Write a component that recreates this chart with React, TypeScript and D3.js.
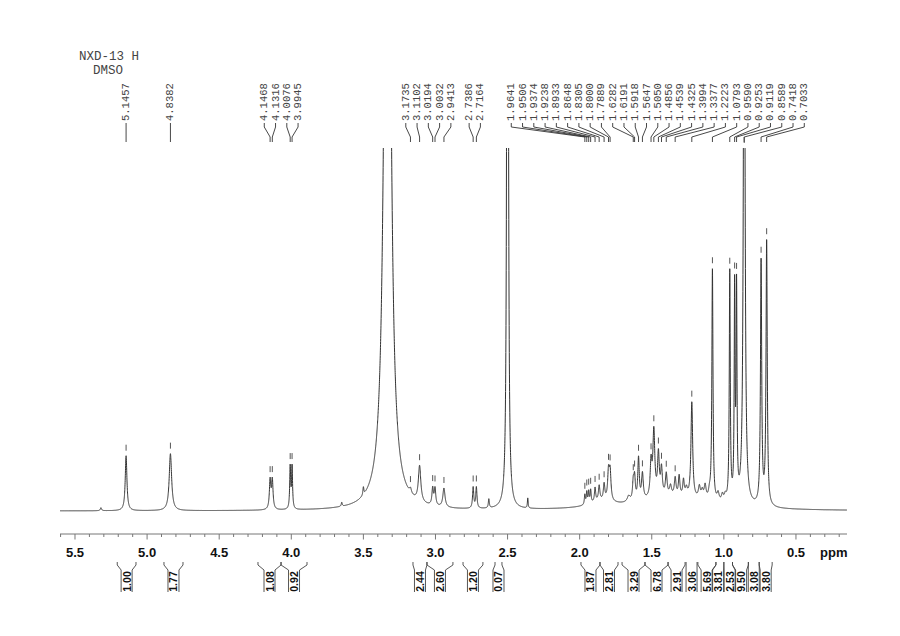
import React, { useMemo } from "react";
import * as d3 from "d3";

// ---------- data ----------
const titleLines = ["NXD-13 H", "DMSO"];

const peakLabels = [
  "5.1457", "4.8382", "4.1468", "4.1316", "4.0076", "3.9945",
  "3.1735", "3.1102", "3.0194", "3.0032", "2.9413", "2.7386", "2.7164",
  "1.9641", "1.9506", "1.9374", "1.9238", "1.8933", "1.8648", "1.8305",
  "1.8000", "1.7889", "1.6282", "1.6191", "1.5918", "1.5647", "1.5050",
  "1.4856", "1.4539", "1.4325", "1.3994", "1.3377", "1.2223", "1.0793",
  "0.9590", "0.9253", "0.9119", "0.8589", "0.7418", "0.7033",
];

// spectral lines: position (ppm), height, half-width (ppm)
const linePpm = [
  5.32, 5.1457, 4.8382, 4.1468, 4.1316, 4.0076, 3.9945, 3.65, 3.50, 3.333,
  3.1735, 3.1102, 3.0194, 3.0032, 2.9413, 2.7386, 2.7164, 2.63, 2.50, 2.36,
  1.9641, 1.9506, 1.9374, 1.9238, 1.8933, 1.8648, 1.8305, 1.8000, 1.7889,
  1.6282, 1.6191, 1.5918, 1.5647, 1.5050, 1.4856, 1.4539, 1.4325, 1.3994,
  1.3377, 1.31, 1.28, 1.2223, 1.17, 1.13, 1.0793, 1.04, 1.01, 0.9590,
  0.9253, 0.9119, 0.8589, 0.7418, 0.7033, 1.35, 1.85,
  1.66, 1.37, 1.26, 1.15, 1.10, 0.99,
];
const lineHeight = [
  3, 55, 57, 29, 29, 42, 42, 4, 8, 1077,
  5, 36, 17, 17, 19, 21, 21, 9, 2000, 10,
  10, 12, 12, 13, 14, 15, 16, 28, 28,
  18, 22, 42, 26, 34, 66, 42, 27, 22,
  18, 20, 16, 96, 12, 14, 232, 8, 7, 230,
  210, 208, 700, 244, 264, 13, 6,
  6, 10, 8, 8, 7, 6,
];
const lineWidth = [
  0.005, 0.007, 0.010, 0.006, 0.006, 0.004, 0.004, 0.004, 0.004, 0.0205,
  0.008, 0.010, 0.006, 0.006, 0.009, 0.005, 0.005, 0.004, 0.0035, 0.003,
  0.004, 0.004, 0.004, 0.004, 0.005, 0.006, 0.006, 0.007, 0.007,
  0.006, 0.006, 0.006, 0.007, 0.007, 0.008, 0.007, 0.007, 0.007,
  0.007, 0.006, 0.006, 0.007, 0.008, 0.008, 0.0045, 0.008, 0.008, 0.004,
  0.0035, 0.0035, 0.006, 0.005, 0.005, 0.3, 0.1,
  0.012, 0.008, 0.008, 0.008, 0.008, 0.008,
];

const integralFrom = [5.207, 4.883, 4.231, 4.071, 3.156, 3.059, 2.809, 2.587,
  1.991, 1.859, 1.706, 1.547, 1.387, 1.262, 1.180, 1.055, 1.000, 0.940, 0.830, 0.755];
const integralTo = [5.077, 4.751, 4.071, 3.891, 3.059, 2.879, 2.671, 2.539,
  1.859, 1.734, 1.547, 1.387, 1.269, 1.186, 1.055, 1.000, 0.940, 0.830, 0.755, 0.665];
const integralValues = ["1.00", "1.77", "1.08", "0.92", "2.44", "2.60", "1.20", "0.07",
  "1.87", "2.81", "3.29", "6.78", "2.91", "3.06", "5.69", "3.81", "2.53", "9.50", "3.08", "3.80"];

const majorTicks = [5.5, 5.0, 4.5, 4.0, 3.5, 3.0, 2.5, 2.0, 1.5, 1.0, 0.5];
const minorTicks = [5.6, 5.4, 5.3, 5.2, 5.1, 4.9, 4.8, 4.7, 4.6, 4.4, 4.3, 4.2, 4.1,
  3.9, 3.8, 3.7, 3.6, 3.4, 3.3, 3.2, 3.1, 2.9, 2.8, 2.7, 2.6, 2.4, 2.3, 2.2, 2.1,
  1.9, 1.8, 1.7, 1.6, 1.4, 1.3, 1.2, 1.1, 0.9, 0.8, 0.7, 0.6, 0.4, 0.3, 0.2];
const axisUnit = "ppm";

// ---------- layout ----------
const W = 900, H = 636;
const plotLeft = 60, plotRight = 847;
const baseY = 511, topY = 148;
const axisY = 534;
const labelGap = 11.27;
const integralGap = 11.5;

function intensity(ppm: number) {
  let s = 0;
  for (let i = 0; i < linePpm.length; i++) {
    const d = (ppm - linePpm[i]) / lineWidth[i];
    s += lineHeight[i] / (1 + d * d);
  }
  return s;
}

function spreadLabels(xs: number[], gap: number) {
  type C = { idx: number[]; sum: number };
  const clusters: C[] = xs.map((x, i) => ({ idx: [i], sum: x }));
  const pos = (c: C, k: number) => c.sum / c.idx.length + (k - (c.idx.length - 1) / 2) * gap;
  let merged = true;
  while (merged) {
    merged = false;
    for (let i = 0; i < clusters.length - 1; i++) {
      const a = clusters[i], b = clusters[i + 1];
      if (pos(b, 0) - pos(a, a.idx.length - 1) < gap - 1e-6) {
        clusters.splice(i, 2, { idx: a.idx.concat(b.idx), sum: a.sum + b.sum });
        merged = true;
        break;
      }
    }
  }
  const out: number[] = new Array(xs.length);
  clusters.forEach((c) => c.idx.forEach((id, k) => (out[id] = pos(c, k))));
  return out;
}

export default function App() {
  const x = d3.scaleLinear().domain([5.604, 0.146]).range([plotLeft, plotRight]);
  const y = d3.scaleLinear().domain([0, baseY - topY]).range([baseY, topY]);

  const specPath = useMemo(() => {
    const pts = d3.range(5.604, 0.146, -0.0005).map((p) => [p, intensity(p)] as [number, number]);
    const line = d3.line<[number, number]>()
      .x((d) => x(d[0]))
      .y((d) => y(Math.min(d[1], 420)));
    return line(pts) || "";
  }, []);

  const peakX = peakLabels.map((s) => x(parseFloat(s)));
  const labelX = spreadLabels(peakX, labelGap);
  const intCenters = integralValues.map((_, i) => (x(integralFrom[i]) + x(integralTo[i])) / 2);
  const intLabelX = spreadLabels(intCenters, integralGap);
  const mono = "'Liberation Mono', 'DejaVu Sans Mono', monospace";
  const sans = "'Liberation Sans', Arial, sans-serif";

  return (
    <svg width={W} height={H} style={{ position: "absolute", left: 0, top: 0, background: "#fff" }}>
      <defs>
        <clipPath id="plotclip">
          <rect x={plotLeft} y={topY} width={plotRight - plotLeft} height={axisY - topY} />
        </clipPath>
      </defs>
      <rect x={0} y={0} width={W} height={H} fill="#fff" />

      {/* title */}
      <text x={79} y={60} fontFamily={mono} fontSize={12.5} fill="#444">{titleLines[0]}</text>
      <text x={93} y={73.5} fontFamily={mono} fontSize={12.5} fill="#444">{titleLines[1]}</text>

      {/* peak labels with leader lines */}
      {peakLabels.map((s, i) => {
        const lx = labelX[i], px = peakX[i];
        return (
          <g key={s}>
            <text
              transform={`translate(${lx},121) rotate(-90)`}
              fontFamily={mono}
              fontSize={10.5}
              fill="#444"
              dominantBaseline="central"
            >
              {s}
            </text>
            <path
              d={`M${lx},123 L${lx},127 L${px},137 L${px},142`}
              fill="none"
              stroke="#333"
              strokeWidth={0.9}
            />
          </g>
        );
      })}

      {/* spectrum */}
      <g clipPath="url(#plotclip)">
        <path d={specPath} fill="none" stroke="#333" strokeWidth={1} />
      </g>

      {/* peak markers */}
      {peakLabels.map((s, i) => {
        const v = intensity(parseFloat(s));
        const py = Math.max(y(v), topY);
        const y2 = Math.max(py - 5, 143);
        const y1 = y2 - 6;
        return <line key={"m" + s} x1={peakX[i]} x2={peakX[i]} y1={y1} y2={y2} stroke="#444" strokeWidth={0.9} />;
      })}

      {/* axis */}
      <line x1={plotLeft} x2={plotRight} y1={axisY} y2={axisY} stroke="#777" strokeWidth={1} />
      {minorTicks.map((t) => (
        <line key={"mi" + t} x1={x(t)} x2={x(t)} y1={axisY} y2={axisY + 3} stroke="#777" strokeWidth={1} />
      ))}
      {majorTicks.map((t) => (
        <g key={"ma" + t}>
          <line x1={x(t)} x2={x(t)} y1={axisY} y2={axisY + 5.5} stroke="#777" strokeWidth={1} />
          <text x={x(t)} y={556.5} textAnchor="middle" fontFamily={sans} fontWeight="bold" fontSize={13} fill="#111">
            {t.toFixed(1)}
          </text>
        </g>
      ))}
      <text x={820} y={556.5} fontFamily={sans} fontWeight="bold" fontSize={13} fill="#111">{axisUnit}</text>

      {/* integrals */}
      {integralValues.map((v, i) => {
        const x1 = x(integralFrom[i]);
        const x2 = x(integralTo[i]);
        const c = intLabelX[i];
        const b = 5.5;
        return (
          <g key={"int" + i}>
            <path
              d={`M${x1},562 L${x1},565 L${c - b},570 L${c - b},592 M${x2},562 L${x2},565 L${c + b},570 L${c + b},592`}
              fill="none"
              stroke="#444"
              strokeWidth={0.9}
            />
            <text
              transform={`translate(${c},581.5) rotate(-90)`}
              textAnchor="middle"
              dominantBaseline="central"
              fontFamily={sans}
              fontWeight="bold"
              fontSize={10.5}
              fill="#111"
            >
              {v}
            </text>
          </g>
        );
      })}
    </svg>
  );
}
